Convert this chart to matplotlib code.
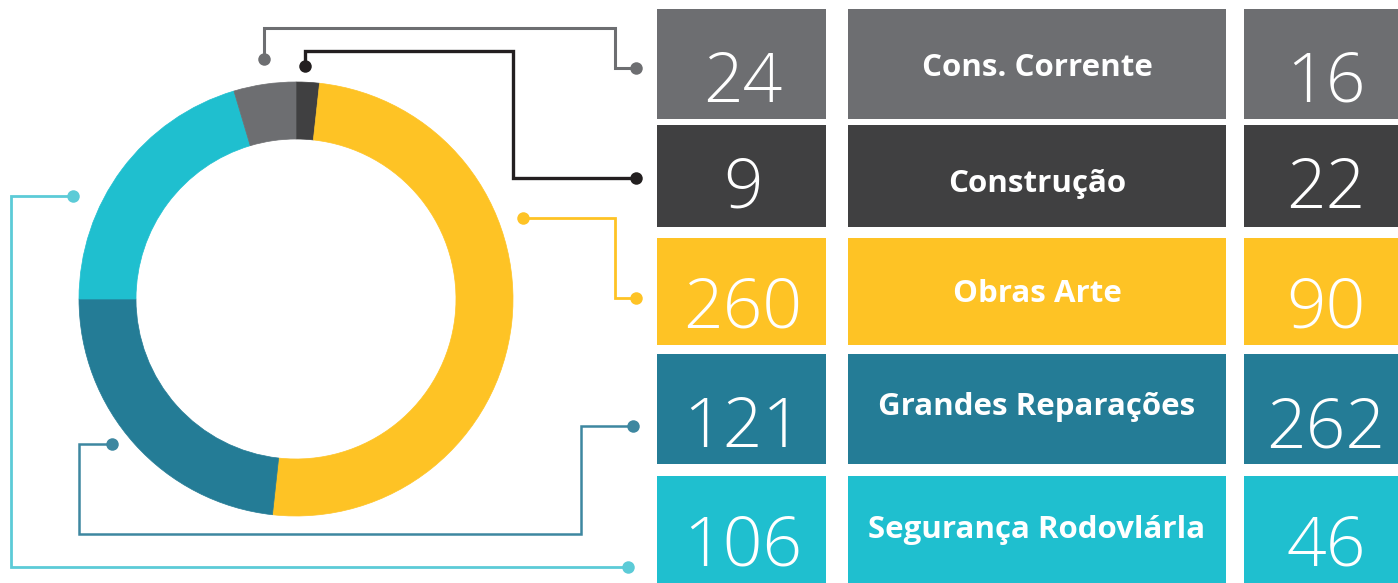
import matplotlib
matplotlib.use("Agg")
import matplotlib.pyplot as plt
from matplotlib.patches import Rectangle

# data
categories = ["Cons. Corrente", "Construção", "Obras Arte", "Grandes Reparações", "Segurança Rodovlárla"]
values_left = [24, 9, 260, 121, 106]
values_right = [16, 22, 90, 262, 46]
colors = ["#6d6e71", "#404041", "#fec325", "#247c96", "#1fbfcf"]
line_colors = ["#6d6e71", "#231f20", "#fec325", "#3d87a0", "#5ccbd7"]
donut_order = [1, 2, 3, 4, 0]   # clockwise from 12 o'clock

W, H = 1398, 583
fig = plt.figure(figsize=(W / 100, H / 100), dpi=100)
ax = fig.add_axes([0, 0, 1, 1])

def Y(y):
    # pixel rows are measured from the top
    return H - y

# donut
cx, cy, r_out, r_in = 296, 299, 217, 160
wedges, _ = ax.pie([values_left[i] for i in donut_order],
                   colors=[colors[i] for i in donut_order],
                   startangle=90, counterclock=False,
                   center=(cx, Y(cy)), radius=r_out,
                   wedgeprops=dict(width=r_out - r_in, linewidth=0.5))
for w in wedges:
    w.set_edgecolor(w.get_facecolor())

# connector paths (pixel coords from top), one per category
paths = [
    [(264, 59), (264, 28), (615, 28), (615, 68), (636, 68)],
    [(305, 66), (305, 51), (513, 51), (513, 178), (636, 178)],
    [(523, 218), (615, 218), (615, 298), (636, 298)],
    [(112, 444), (79, 444), (79, 534), (581, 534), (581, 426), (633, 426)],
    [(73, 196), (11, 196), (11, 567), (628, 567)],
]
widths = [2.2, 2.4, 2.0, 1.8, 2.0]
for p, c, lw in zip(paths, line_colors, widths):
    xs = [q[0] for q in p]
    ys = [Y(q[1]) for q in p]
    ax.plot(xs, ys, color=c, lw=lw, solid_joinstyle="miter", zorder=3)
    ax.plot([xs[0], xs[-1]], [ys[0], ys[-1]], "o", color=c, ms=9, mew=0, zorder=4)

# table of boxes
rows = [(9, 119), (125, 227), (238, 345), (354, 464), (476, 590)]
cols = [(657, 826), (848, 1226), (1244, 1413)]
num_base = [102, 208, 328, 447, 565]
lab_base = [76, 192, 302, 415, 538]

for i, (t, b) in enumerate(rows):
    for (l, r) in cols:
        ax.add_patch(Rectangle((l, Y(b)), r - l, b - t, color=colors[i], lw=0, zorder=2))
    ax.text(743, Y(num_base[i]), str(values_left[i]), ha="center", va="baseline",
            color="white", fontsize=50, family="Open Sans", weight="light", zorder=5)
    ax.text(1037, Y(lab_base[i]), categories[i], ha="center", va="baseline",
            color="white", fontsize=22.5, family="Open Sans", weight="bold", zorder=5)
    ax.text(1326, Y(num_base[i]), str(values_right[i]), ha="center", va="baseline",
            color="white", fontsize=50, family="Open Sans", weight="light", zorder=5)

ax.set_xlim(0, W)
ax.set_ylim(0, H)
ax.set_aspect("auto")
ax.axis("off")

fig.savefig("out.png", dpi=100, facecolor="white")
